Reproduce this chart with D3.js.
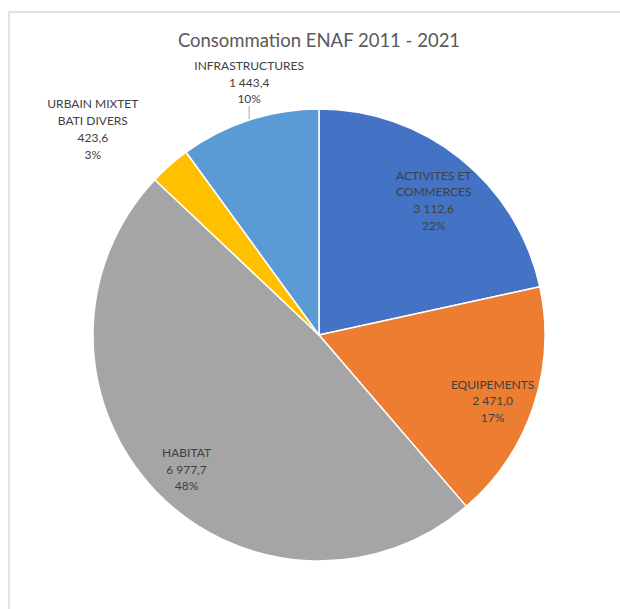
<!DOCTYPE html>
<html><head><meta charset="utf-8">
<script src="https://cdn.jsdelivr.net/npm/d3@7"></script>
<style>html,body{margin:0;padding:0;background:#fff;}svg{display:block;}</style>
</head><body>
<svg id="chart" width="620" height="609"></svg>
<script>
const title = "Consommation ENAF 2011 - 2021";
const categories = ["ACTIVITES ET COMMERCES", "EQUIPEMENTS", "HABITAT", "URBAIN MIXTET BATI DIVERS", "INFRASTRUCTURES"];
const labelLines = [["ACTIVITES ET", "COMMERCES"], ["EQUIPEMENTS"], ["HABITAT"], ["URBAIN MIXTET", "BATI DIVERS"], ["INFRASTRUCTURES"]];
const values = [3112.6, 2471.0, 6977.7, 423.6, 1443.4];
const colors = ["#4472C4", "#ED7D31", "#A5A5A5", "#FFC000", "#5B9BD5"];

const svg = d3.select("#chart");
const W = 620, H = 609;
const cx = 319, cy = 335, R = 226;
const font = "Lato, 'Open Sans', sans-serif";

// frame
svg.append("rect").attr("x", 9).attr("y", 12).attr("width", W).attr("height", H)
  .attr("fill", "#fff").attr("stroke", "#d9d9d9").attr("stroke-width", 1.5);

svg.append("text").attr("x", cx).attr("y", 47).attr("text-anchor", "middle")
  .attr("font-family", font).attr("font-size", 18.5).attr("fill", "#595959").text(title);

const total = d3.sum(values);
const pie = d3.pie().sort(null).value(d => d)(values);
const arc = d3.arc().innerRadius(0).outerRadius(R);
const g = svg.append("g").attr("transform", `translate(${cx},${cy})`);

g.selectAll("path").data(pie).join("path")
  .attr("d", arc).attr("fill", (d, i) => colors[i])
  .attr("stroke", "#fff").attr("stroke-width", 1.5).attr("stroke-linejoin", "round");

const fmt = v => {
  const s = v.toFixed(1).replace(".", ",");
  const [ip, dp] = s.split(",");
  return ip.replace(/\B(?=(\d{3})+(?!\d))/g, "\u202F") + "," + dp;
};
const pct = v => Math.round(v / total * 100) + "%";

const lineH = 16.7;
pie.forEach((d, i) => {
  const lines = labelLines[i].concat([fmt(values[i]), pct(values[i])]);
  const mid = (d.startAngle + d.endAngle) / 2;
  const frac = (d.endAngle - d.startAngle) / (2 * Math.PI);
  let x, yTop;
  const n = lines.length;
  if (frac > 0.12) {
    const rl = R * 0.81;
    x = rl * Math.sin(mid);
    const yc = -rl * Math.cos(mid) + 8;
    yTop = yc - (n - 1) * lineH / 2;
  } else {
    const ex = R * Math.sin(mid), ey = -R * Math.cos(mid);
    if (frac > 0.05) {
      x = ex;
      yTop = ey - 15 - (n - 1) * lineH - 6;
      g.append("line").attr("x1", ex).attr("x2", ex).attr("y1", ey - 1).attr("y2", ey - 14)
        .attr("stroke", "#a6a6a6").attr("stroke-width", 1);
    } else {
      x = ex - 77;
      yTop = ey - 61;
    }
  }
  const t = g.append("text").attr("text-anchor", "middle").attr("font-family", font)
    .attr("font-size", 12).attr("fill", "#404040");
  lines.forEach((ln, k) => {
    t.append("tspan").attr("x", x).attr("y", yTop + k * lineH).attr("dy", "0.35em").text(ln);
  });
});
</script>
</body></html>
